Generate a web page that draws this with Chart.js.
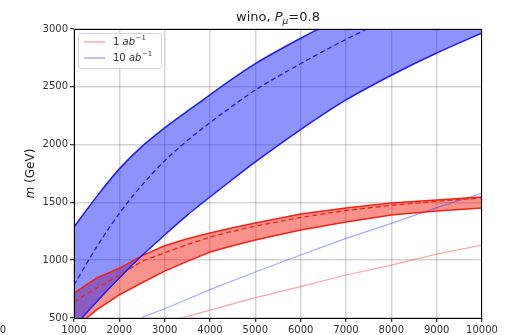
<!DOCTYPE html>
<html>
<head>
<meta charset="utf-8">
<script src="https://cdn.jsdelivr.net/npm/chart.js@4"></script>
<style>
  body { margin: 0; background: #fff; }
  canvas { display: block; }
</style>
</head>
<body>
<canvas id="myChart" width="512" height="335"></canvas>
<script>
// collider energy (GeV) shared by every curve
const energia = [1000, 1500, 2000, 2500, 3000, 3500, 4000, 4500, 5000, 6000, 7000, 8000, 9000, 10000];

// 10 ab^-1 band
const azulSup = [1287, 1550, 1790, 1985, 2145, 2290, 2430, 2570, 2700, 2920, 3120, 3310, 3490, 3660];
const azulMeio = [785, 1115, 1405, 1650, 1860, 2035, 2190, 2335, 2472, 2700, 2910, 3100, 3270, 3430];
const azulInf = [424, 640, 846, 1040, 1218, 1390, 1547, 1700, 1850, 2130, 2386, 2600, 2792, 2965];

// 1 ab^-1 band
const vermSup = [716, 846, 930, 1040, 1125, 1185, 1235, 1280, 1322, 1400, 1451, 1495, 1520, 1547];
const vermMeio = [640, 760, 870, 990, 1065, 1135, 1200, 1250, 1295, 1370, 1430, 1475, 1510, 1538];
const vermInf = [410, 570, 700, 805, 906, 990, 1071, 1125, 1175, 1261, 1330, 1390, 1425, 1451];

// thin reference lines
const azulFina = [null, null, null, 505, 580, 662, 745, 822, 898, 1045, 1189, 1319, 1455, 1581];
const vermFina = [null, null, null, null, 460, 514, 568, 622, 676, 771, 872, 958, 1053, 1131];

const xTicks = [1000, 2000, 3000, 4000, 5000, 6000, 7000, 8000, 9000, 10000];
const yTicks = [500, 1000, 1500, 2000, 2500, 3000];

const legendas = ["1", "10"];

const AZUL = "rgb(30,30,245)";
const VERM = "rgb(245,35,20)";
const AZUL_FINO = "rgba(60,60,255,0.45)";
const VERM_FINO = "rgba(250,60,60,0.45)";

function pontos(ys) {
  return energia.map((x, i) => ({ x: x, y: ys[i] }));
}

function curva(ys, cor, extra) {
  return Object.assign({
    data: pontos(ys),
    borderColor: cor,
    borderWidth: 1.5,
    pointRadius: 0,
    tension: 0.3,
    cubicInterpolationMode: "monotone",
    fill: false,
    spanGaps: false,
  }, extra || {});
}

// title, y label, legend and frame drawn on the canvas
const extras = {
  id: "extras",
  afterDraw(chart) {
    const ctx = chart.ctx;
    const a = chart.chartArea;
    ctx.save();

    // frame
    ctx.strokeStyle = "#000";
    ctx.lineWidth = 1;
    ctx.strokeRect(a.left + 0.5, a.top + 0.5, a.right - a.left - 1, a.bottom - a.top);

    // title: wino, P_mu=0.8
    ctx.fillStyle = "#222";
    ctx.textBaseline = "alphabetic";
    const partes = [
      { t: "wino, ", f: "13px 'DejaVu Sans'", dy: 0 },
      { t: "P", f: "italic 13px 'DejaVu Sans'", dy: 0 },
      { t: "\u03bc", f: "italic 9px 'DejaVu Sans'", dy: 3 },
      { t: "=0.8", f: "13px 'DejaVu Sans'", dy: 0 },
    ];
    let total = 0;
    partes.forEach((p) => { ctx.font = p.f; total += ctx.measureText(p.t).width; });
    let x = (a.left + a.right) / 2 - total / 2;
    partes.forEach((p) => {
      ctx.font = p.f;
      ctx.fillText(p.t, x, 21 + p.dy);
      x += ctx.measureText(p.t).width;
    });

    // y label
    ctx.save();
    ctx.translate(34, (a.top + a.bottom) / 2);
    ctx.rotate(-Math.PI / 2);
    ctx.font = "italic 12px 'DejaVu Sans'";
    const m = ctx.measureText("m").width;
    ctx.font = "12px 'DejaVu Sans'";
    const resto = ctx.measureText(" (GeV)").width;
    let lx = -(m + resto) / 2;
    ctx.font = "italic 12px 'DejaVu Sans'";
    ctx.fillText("m", lx, 0);
    ctx.font = "12px 'DejaVu Sans'";
    ctx.fillText(" (GeV)", lx + m, 0);
    ctx.restore();

    // legend box
    const bx = a.left + 4, by = a.top + 4, bw = 83, bh = 35;
    ctx.fillStyle = "rgba(255,255,255,0.85)";
    ctx.strokeStyle = "#d4d4d4";
    ctx.lineWidth = 1;
    ctx.beginPath();
    ctx.roundRect(bx + 0.5, by + 0.5, bw, bh, 3);
    ctx.fill();
    ctx.stroke();

    const cores = [VERM_FINO, AZUL_FINO];
    legendas.forEach((lum, i) => {
      const yy = by + 9 + i * 16;
      ctx.strokeStyle = cores[i];
      ctx.lineWidth = 1.5;
      ctx.beginPath();
      ctx.moveTo(bx + 6, yy);
      ctx.lineTo(bx + 27, yy);
      ctx.stroke();
      ctx.fillStyle = "#333";
      ctx.textBaseline = "middle";
      let tx = bx + 35;
      ctx.font = "10px 'DejaVu Sans'";
      ctx.fillText(lum + " ", tx, yy);
      tx += ctx.measureText(lum + " ").width;
      ctx.font = "italic 10px 'DejaVu Sans'";
      ctx.fillText("ab", tx, yy);
      tx += ctx.measureText("ab").width;
      ctx.font = "7px 'DejaVu Sans'";
      ctx.fillText("\u22121", tx + 0.5, yy - 4);
    });

    // tick label of the neighbouring panel, cut by the edge
    ctx.fillStyle = "#333";
    ctx.font = "10px 'DejaVu Sans'";
    ctx.textAlign = "right";
    ctx.textBaseline = "top";
    ctx.fillText("10000", 6, a.bottom + 7);

    ctx.restore();
  },
};

const ctx = document.getElementById("myChart");

new Chart(ctx, {
  type: "line",
  data: {
    datasets: [
      curva(azulSup, AZUL),
      curva(azulInf, AZUL, { fill: "-1", backgroundColor: "rgba(30,40,250,0.5)" }),
      curva(azulMeio, AZUL, { borderDash: [5, 3], borderWidth: 1.3 }),
      curva(vermSup, VERM, { tension: 0, cubicInterpolationMode: "default" }),
      curva(vermInf, VERM, { tension: 0, cubicInterpolationMode: "default", fill: "-1", backgroundColor: "rgba(240,40,25,0.5)" }),
      curva(vermMeio, VERM, { tension: 0, cubicInterpolationMode: "default", borderDash: [5, 3], borderWidth: 1.3 }),
      curva(azulFina, AZUL_FINO, { borderWidth: 1.2, tension: 0, cubicInterpolationMode: "default" }),
      curva(vermFina, VERM_FINO, { borderWidth: 1.2, tension: 0, cubicInterpolationMode: "default" }),
    ],
  },
  options: {
    responsive: false,
    animation: false,
    layout: { padding: { top: 29, right: 30, left: 0, bottom: 0 } },
    plugins: {
      legend: { display: false },
      title: { display: false },
      tooltip: { enabled: false },
      filler: { drawTime: "beforeDatasetsDraw" },
    },
    scales: {
      x: {
        type: "linear",
        min: 1000,
        max: 10000,
        afterFit: (s) => { s.height = 17; },
        afterBuildTicks: (s) => { s.ticks = xTicks.map((v) => ({ value: v })); },
        ticks: {
          padding: 2,
          color: "#333",
          font: { family: "DejaVu Sans", size: 10 },
          callback: (v) => String(v),
          maxRotation: 0,
        },
        grid: { color: "rgba(0,0,0,0.17)", lineWidth: 1.5, tickColor: "#000", tickLength: 4, tickWidth: 1 },
        border: { color: "#000", width: 1 },
      },
      y: {
        type: "linear",
        min: 500,
        max: 3000,
        afterFit: (s) => { s.width = 74; },
        afterBuildTicks: (s) => { s.ticks = yTicks.map((v) => ({ value: v })); },
        ticks: {
          padding: 2,
          color: "#333",
          font: { family: "DejaVu Sans", size: 10 },
          callback: (v) => String(v),
        },
        grid: { color: "rgba(0,0,0,0.17)", lineWidth: 1.5, tickColor: "#000", tickLength: 4, tickWidth: 1 },
        border: { color: "#000", width: 1 },
      },
    },
  },
  plugins: [extras],
});
</script>
</body>
</html>
